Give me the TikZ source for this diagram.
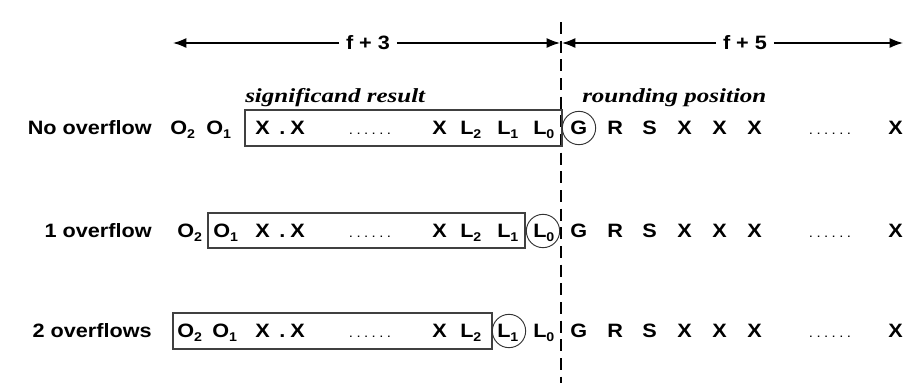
\documentclass[tikz,border=0pt]{standalone}
\usepackage{fontspec}
\setmainfont{Liberation Sans}[FakeStretch=1.12]
\newfontfamily\itlfont{Liberation Serif}[FakeStretch=1.25]
\usetikzlibrary{arrows.meta}
\newcommand\sbs[1]{\raisebox{-0.4ex}{\fontsize{9.5}{9.5}\selectfont #1}}
\newcommand\dotrow{\fontsize{10}{10}\selectfont\mdseries .\kern2.6pt.\kern2.6pt.\kern2.6pt.\kern2.6pt.\kern2.6pt.}
\begin{document}
\begin{tikzpicture}[x=0.75pt,y=-0.75pt,
  ch/.style={font=\fontsize{14.5}{15}\selectfont\bfseries, inner sep=0pt, anchor=base west},
  rowlab/.style={font=\fontsize{14.5}{15}\selectfont\bfseries, inner sep=0pt, anchor=base east},
  dts/.style={inner sep=0pt, anchor=base},
  itl/.style={font=\fontsize{15}{16}\selectfont\itlfont\bfseries\itshape, inner sep=0pt, anchor=base west},
  sbox/.style={draw=black!75, line width=0.9pt},
  ring/.style={draw=black!80, line width=0.7pt, circle, inner sep=0pt, minimum size=25pt},
  dim/.style={line width=1.1pt, -{Latex[length=10pt,width=7.5pt]}},
  dimlab/.style={font=\fontsize{14.5}{15}\selectfont\bfseries, fill=white, inner xsep=5pt, inner ysep=1pt},
  split/.style={line width=1.1pt, dash pattern=on 9pt off 5pt}
]
\useasboundingbox (0,0) rectangle (904,383);

% dimension arrows
\coordinate (aL) at (173,43);
\coordinate (aM1) at (560,43);
\coordinate (aM2) at (562,43);
\coordinate (aR) at (903,43);
\node[dimlab] (f3) at (368,43) {f + 3};
\node[dimlab] (f5) at (745,43) {f + 5};
\draw[dim] (f3) -- (aL);
\draw[dim] (f3) -- (aM1);
\draw[dim] (f5) -- (aM2);
\draw[dim] (f5) -- (aR);

% dashed split
\coordinate (dT) at (561,22);
\coordinate (dB) at (561,383);
\draw[split] (dT) -- (dB);

% captions
\node[itl] (sig) at (245,102) {significand result};
\node[itl] (rnd) at (582,102) {rounding position};

% boxes
\draw[sbox] (245,110) rectangle (562,146);
\draw[sbox] (208,213) rectangle (525,248);
\draw[sbox] (173,313) rectangle (492,349);

% circles
\node[ring] (c1) at (579,128) {};
\node[ring] (c2) at (543,231) {};
\node[ring] (c3) at (509,331) {};

% row 1
\node[rowlab] (r1) at (152,134.5) {No overflow};
\node[ch] (r1o2) at (170,134.5) {O\sbs{2}};
\node[ch] (r1o1) at (206,134.5) {O\sbs{1}};
\foreach \b/\n in {134.5/a,237.5/b,337.5/c}{
  \node[ch] (x1\n) at (255,\b) {X};
  \node[ch] (pt\n) at (279,\b) {.};
  \node[ch] (x2\n) at (290,\b) {X};
  \node[dts] (d1\n) at (370,\b) {\dotrow};
  \node[ch] (x3\n) at (432,\b) {X};
  \node[ch] (l2\n) at (460,\b) {L\sbs{2}};
  \node[ch] (l1\n) at (497,\b) {L\sbs{1}};
  \node[ch] (l0\n) at (533,\b) {L\sbs{0}};
  \node[ch] (g\n) at (570,\b) {G};
  \node[ch] (r\n) at (607,\b) {R};
  \node[ch] (s\n) at (642,\b) {S};
  \node[ch] (x4\n) at (677,\b) {X};
  \node[ch] (x5\n) at (712,\b) {X};
  \node[ch] (x6\n) at (747,\b) {X};
  \node[dts] (d2\n) at (830,\b) {\dotrow};
  \node[ch] (x7\n) at (888,\b) {X};
}

% row 2
\node[rowlab] (r2) at (152,237.5) {1 overflow};
\node[ch] (r2o2) at (177,237.5) {O\sbs{2}};
\node[ch] (r2o1) at (213,237.5) {O\sbs{1}};

% row 3
\node[rowlab] (r3) at (152,337.5) {2 overflows};
\node[ch] (r3o2) at (177,337.5) {O\sbs{2}};
\node[ch] (r3o1) at (212,337.5) {O\sbs{1}};
\end{tikzpicture}
\end{document}
